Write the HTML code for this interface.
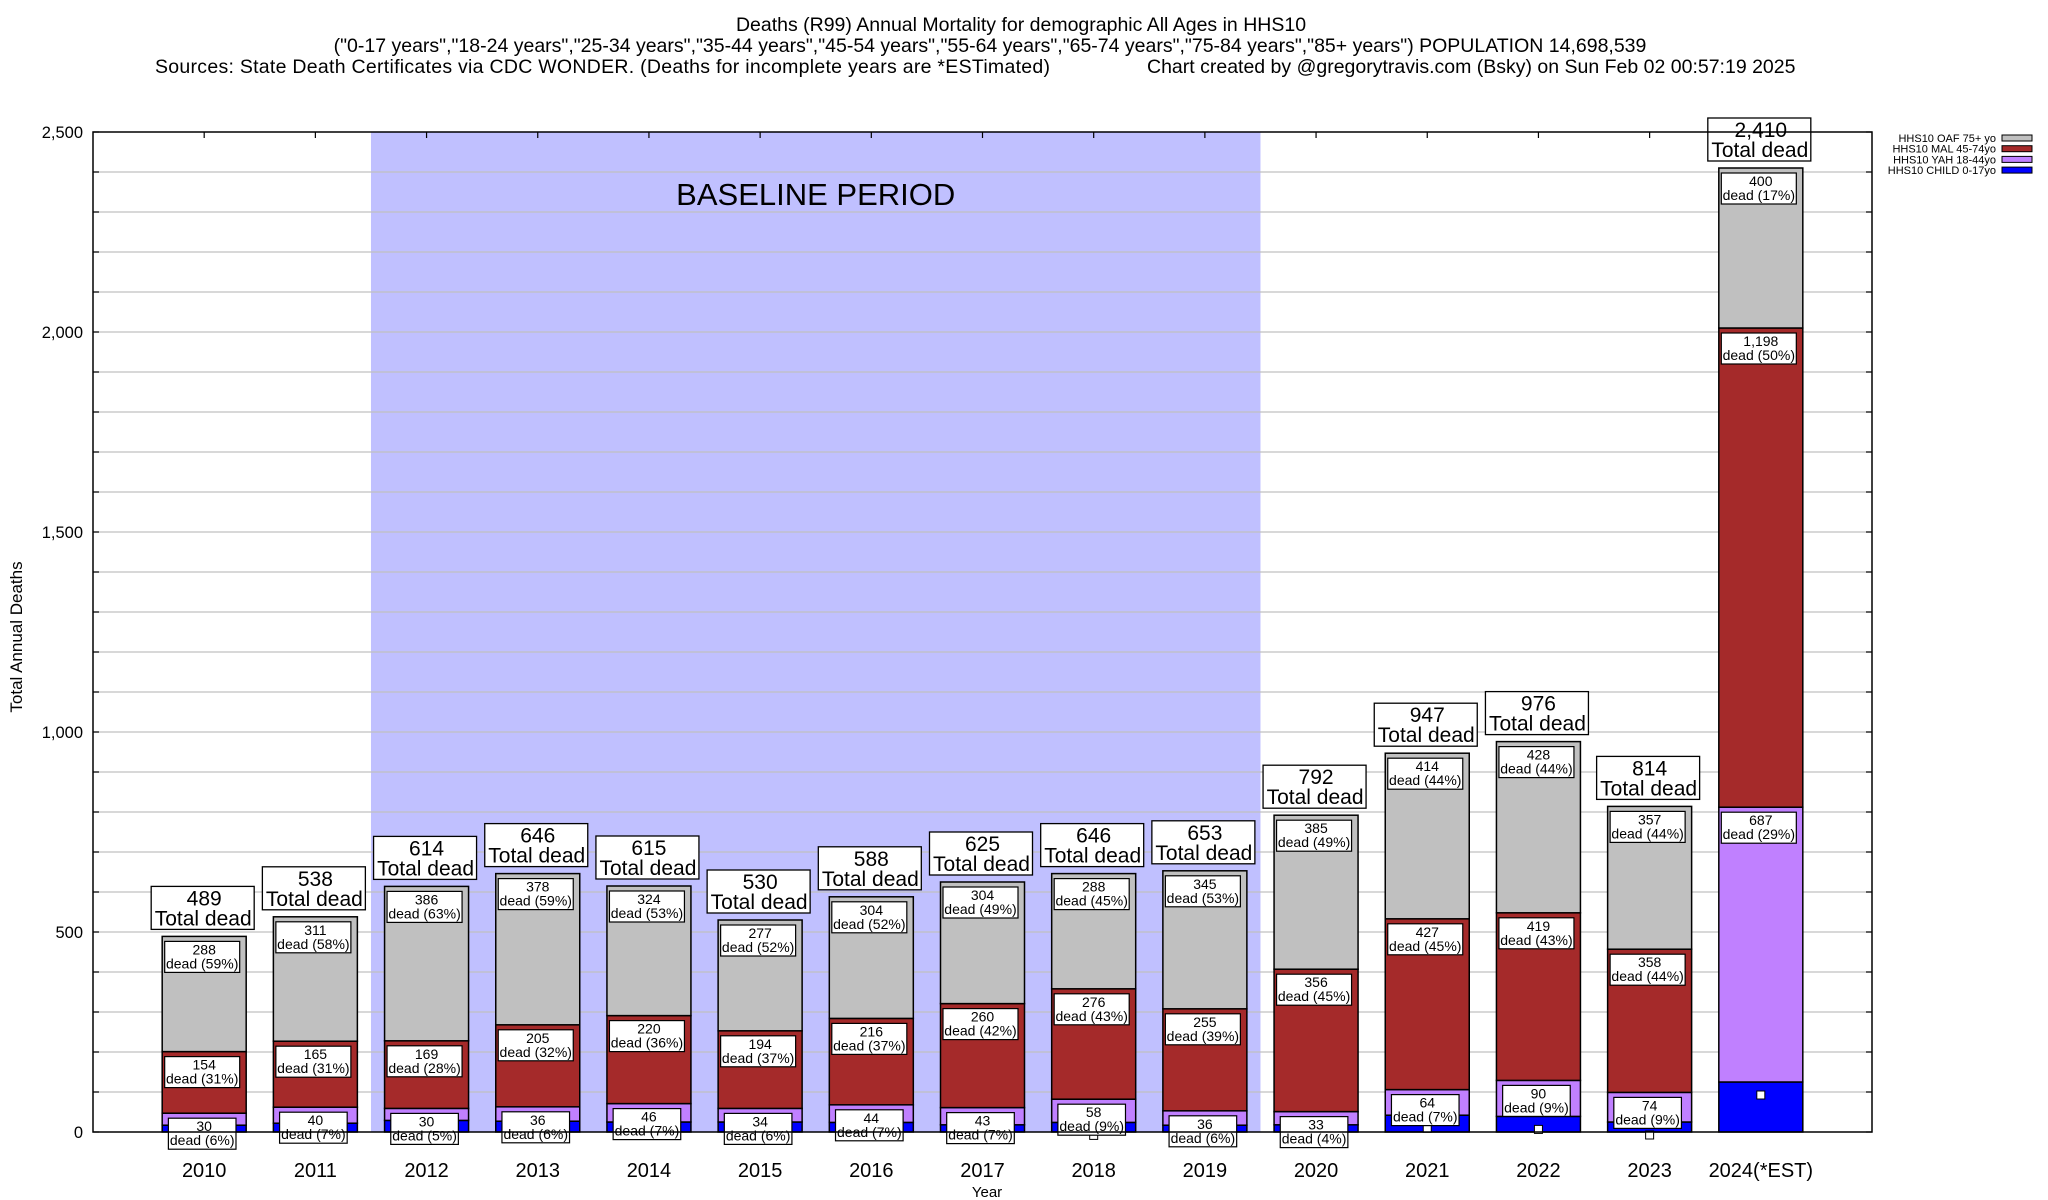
<!DOCTYPE html>
<html><head><meta charset="utf-8"><style>
html,body{margin:0;padding:0;background:#fff;}
svg{display:block;font-family:"Liberation Sans",Arial,sans-serif;}
</style></head><body>
<svg id="chart" width="2048" height="1200" viewBox="0 0 2048 1200" xmlns="http://www.w3.org/2000/svg">
<g font-size="19.5" fill="#000">
<text x="1021" y="31" text-anchor="middle">Deaths (R99) Annual Mortality for demographic All Ages in HHS10</text>
<text x="990" y="52" text-anchor="middle">("0-17 years","18-24 years","25-34 years","35-44 years","45-54 years","55-64 years","65-74 years","75-84 years","85+ years") POPULATION 14,698,539</text>
<text x="155" y="73" textLength="895">Sources: State Death Certificates via CDC WONDER. (Deaths for incomplete years are *ESTimated)</text>
<text x="1147" y="73">Chart created by @gregorytravis.com (Bsky) on Sun Feb 02 00:57:19 2025</text>
</g>
<g id="plot"></g>
</svg>
<script>
const years = ["2010","2011","2012","2013","2014","2015","2016","2017","2018","2019","2020","2021","2022","2023","2024(*EST)"];
const totals = [489,538,614,646,615,530,588,625,646,653,792,947,976,814,2410];
const oaf = [288,311,386,378,324,277,304,304,288,345,385,414,428,357,400];
const mal = [154,165,169,205,220,194,216,260,276,255,356,427,419,358,1198];
const yah = [30,40,30,36,46,34,44,43,58,36,33,64,90,74,687];
const child = [17,22,29,27,25,25,24,18,24,17,18,42,39,25,125];
const yTicks = [0,500,1000,1500,2000,2500];
const baseline = [1.5, 9.5];

const NS="http://www.w3.org/2000/svg";
const L=93,R=1872,T=132,B=1132,YMAX=2500;
const slot=(R-L)/16;
const xs=i=>L+slot*(i+1);
const ys=v=>B-(v/YMAX)*(B-T);
const BW=84;
const g=document.getElementById('plot');
function mk(tag,attrs,parent){const e=document.createElementNS(NS,tag);for(const k in attrs)e.setAttribute(k,attrs[k]);(parent||g).appendChild(e);return e;}
function txt(x,y,s,size,anchor,parent){const e=mk('text',{x:x,y:y,'font-size':size,'text-anchor':anchor||'middle',fill:'#000'},parent);e.textContent=s;return e;}
const fmt=v=>v.toLocaleString('en-US');

const sh=mk('rect',{x:xs(baseline[0]),y:T,width:xs(baseline[1])-xs(baseline[0]),height:B-T,fill:'#c0c0ff'});


for(let v=100;v<2500;v+=100){
 const ln=mk('line',{x1:L,x2:R,y1:ys(v),y2:ys(v),stroke:'#c0c0c0','stroke-width':1.3});
 
 
}
const bt=txt((xs(baseline[0])+xs(baseline[1]))/2,205,'BASELINE PERIOD',31);



const series=[[child,'#0000ff','child'],[yah,'#c080ff','yah'],[mal,'#a52a2a','mal'],[oaf,'#c0c0c0','oaf']];
years.forEach((yr,i)=>{
 const cx=xs(i);
 const grp=mk('g',{});
 
 
 let acc=0;
 const tops=[];
 series.forEach(([arr,col,nm])=>{
  const y0=ys(acc),y1=ys(acc+arr[i]);
  const r=mk('rect',{x:cx-BW/2,y:y1,width:BW,height:y0-y1,fill:col,stroke:'#000','stroke-width':1.5},grp);
  
  
  tops.push(y1);acc+=arr[i];
 });
 const m=mk('rect',{x:cx-4,y:tops[0]+13-4,width:8,height:8,fill:'#fff',stroke:'#000','stroke-width':1},grp);
 
 
 [[yah,1],[mal,2],[oaf,3]].forEach(([arr,k])=>{
  const v=arr[i];const pct=Math.round(v/totals[i]*100);
  const l2='dead ('+pct+'%)';
  const w=Math.max(66,l2.length*7.4+1);
  const by=tops[k]+5;
  const lg=mk('g',{},grp);
  
  
  mk('rect',{x:cx-w/2-2,y:by,width:w,height:31,fill:'#fff',stroke:'#000','stroke-width':1.2},lg);
  txt(cx,by+13,fmt(v),14,'middle',lg);
  txt(cx-2,by+27,l2,14,'middle',lg);
 });
 const tg=mk('g',{},grp);
 
 
 const ty=ys(totals[i])-50;
 mk('rect',{x:cx-53,y:ty,width:103,height:43,fill:'#fff',stroke:'#000','stroke-width':1.3},tg);
 txt(cx,ty+19,fmt(totals[i]),21,'middle',tg);
 txt(cx-1,ty+39,'Total dead',21,'middle',tg);
 const xl=txt(cx,1177,yr,20);
 
 
 mk('line',{x1:cx,x2:cx,y1:T,y2:T+6,stroke:'#000','stroke-width':1.2});
});

const fr=mk('rect',{x:L,y:T,width:R-L,height:B-T,fill:'none',stroke:'#000','stroke-width':1.5});


for(let v=0;v<=2500;v+=100){
 mk('line',{x1:L,x2:L+6,y1:ys(v),y2:ys(v),stroke:'#000','stroke-width':1.2});
 mk('line',{x1:R-6,x2:R,y1:ys(v),y2:ys(v),stroke:'#000','stroke-width':1.2});
}
yTicks.forEach(v=>{
 const t=txt(83,ys(v)+6,fmt(v),16.5,'end');
 
 
});
const yt=txt(0,0,'Total Annual Deaths',17);
yt.setAttribute('transform','translate(22,637) rotate(-90)');


const xt=txt(987,1197,'Year',15);



const legItems=[['HHS10 OAF 75+ yo','#c0c0c0'],['HHS10 MAL 45-74yo','#a52a2a'],['HHS10 YAH 18-44yo','#c080ff'],['HHS10 CHILD 0-17yo','#0000ff']];
const lgd=mk('g',{});


legItems.forEach(([s,c],k)=>{
 const y=138+k*10.7;
 const e=mk('g',{},lgd);
 
 
 txt(1996,y+4,s,11,'end',e);
 mk('rect',{x:2002,y:y-3,width:30,height:6,fill:c,stroke:'#000','stroke-width':1},e);
});
</script>
</body></html>
